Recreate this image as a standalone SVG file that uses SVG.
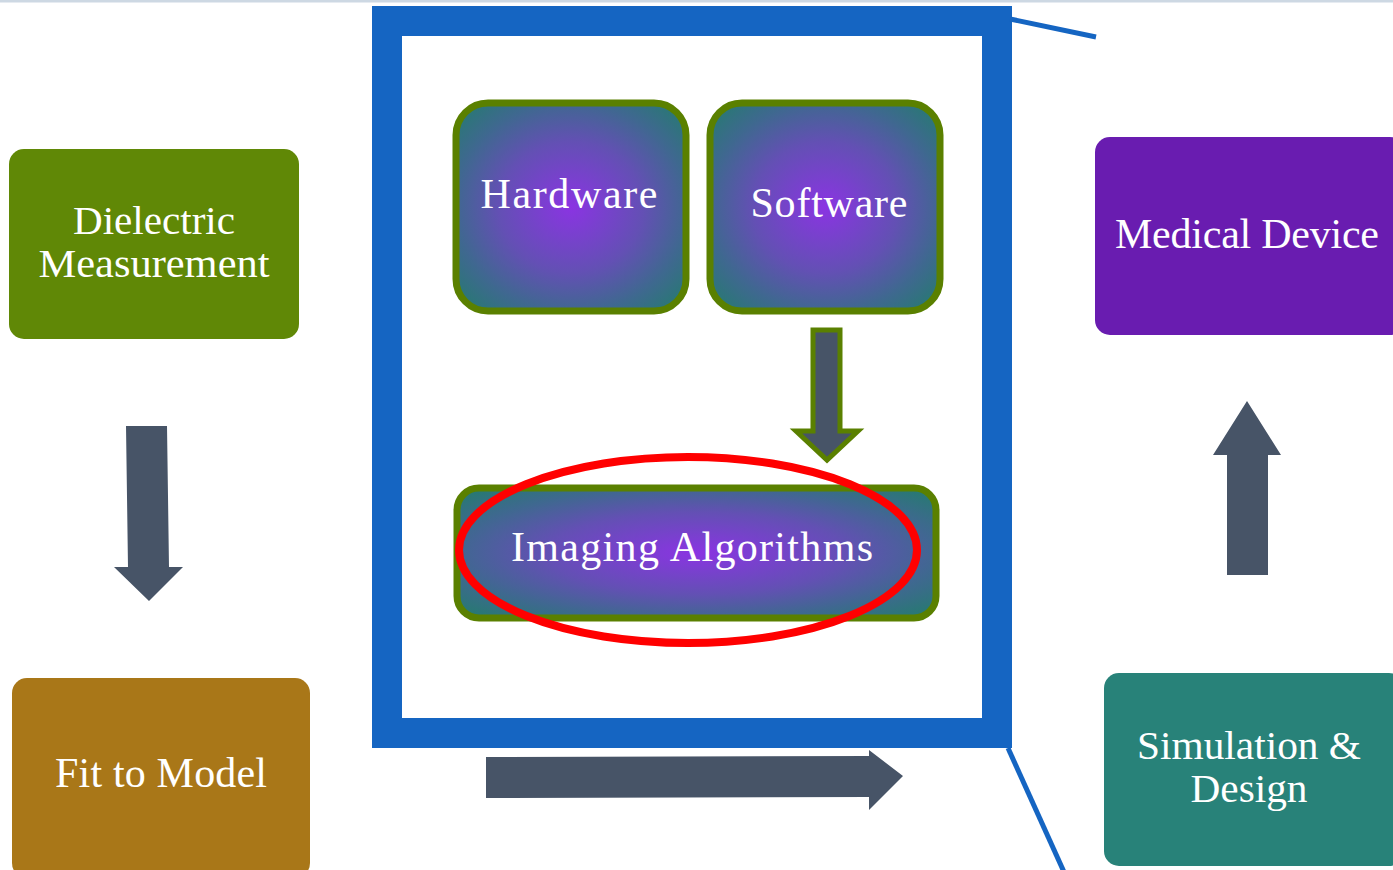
<svg xmlns="http://www.w3.org/2000/svg" width="1393" height="870" viewBox="0 0 1393 870">
  <defs>
    <radialGradient id="glow" cx="0.5" cy="0.5" r="0.7">
      <stop offset="0" stop-color="#8a34e2"/>
      <stop offset="0.45" stop-color="#6350b4"/>
      <stop offset="0.72" stop-color="#3f6890"/>
      <stop offset="1" stop-color="#227d6c"/>
    </radialGradient>
    <style>
      .lbl { font-family: "Liberation Serif", "DejaVu Serif", serif; font-size: 42px; fill: #ffffff; text-anchor: middle; }
      .two { font-size: 39px; }
      .inner { fill: url(#glow); stroke: #5a8000; stroke-width: 7; }
      .flow { fill: #475467; }
      .frame { fill: none; stroke: #1565c2; }
    </style>
  </defs>

  <rect x="0" y="0" width="1393" height="870" fill="#ffffff"/>
  <rect x="0" y="0" width="1393" height="2.5" fill="#cdd8e3"/>

  <!-- zoom frame and its callout lines -->
  <g id="frame">
    <rect class="frame" x="387" y="21" width="610" height="712" stroke-width="30"/>
    <line class="frame" x1="1010" y1="19" x2="1096" y2="37" stroke-width="5"/>
    <line class="frame" x1="1008" y1="748" x2="1064" y2="872" stroke-width="5"/>
  </g>

  <g id="dielectric">
    <rect x="9" y="149" width="290" height="190" rx="15" fill="#608806"/>
    <text class="lbl two" x="154" y="234" textLength="162" lengthAdjust="spacingAndGlyphs">Dielectric</text>
    <text class="lbl two" x="154" y="277" textLength="231" lengthAdjust="spacingAndGlyphs">Measurement</text>
  </g>

  <g id="fit-model">
    <rect x="12" y="678" width="298" height="200" rx="15" fill="#a97718"/>
    <text class="lbl" x="161" y="787" textLength="212">Fit to Model</text>
  </g>

  <g id="medical-device">
    <rect x="1095" y="137" width="310" height="198" rx="15" fill="#691cb0"/>
    <text class="lbl" x="1247" y="248" textLength="264">Medical Device</text>
  </g>

  <g id="simulation">
    <rect x="1104" y="673" width="300" height="193" rx="15" fill="#288279"/>
    <text class="lbl two" x="1249" y="759" textLength="224" lengthAdjust="spacingAndGlyphs">Simulation &amp;</text>
    <text class="lbl two" x="1249" y="802" textLength="117" lengthAdjust="spacingAndGlyphs">Design</text>
  </g>

  <g id="hardware">
    <rect class="inner" x="456" y="103" width="230" height="208" rx="32"/>
    <text class="lbl" x="569" y="208" textLength="177">Hardware</text>
  </g>

  <g id="software">
    <rect class="inner" x="710" y="103" width="230" height="208" rx="32"/>
    <text class="lbl" x="829" y="217" textLength="157">Software</text>
  </g>

  <g id="imaging">
    <rect class="inner" x="457" y="488" width="479" height="130" rx="22"/>
    <text class="lbl" x="692" y="561" textLength="362">Imaging Algorithms</text>
  </g>

  <g id="connectors">
    <!-- Dielectric Measurement to Fit to Model -->
    <polygon class="flow" points="126,426 167,426 169,567 183,567 149,601 114,567 128,567"/>
    <!-- Simulation & Design to Medical Device -->
    <polygon class="flow" points="1227,575 1268,575 1268,455 1281,455 1247,401 1213,455 1227,455"/>
    <!-- imaging chain to Simulation & Design -->
    <polygon class="flow" points="486,757 869,756 869,750 903,776 869,810 869,797 486,798"/>
    <!-- Software to Imaging Algorithms -->
    <polygon class="flow" points="813,330 840,330 840,431 858,431 827,460 796,431 813,431" stroke="#5a8000" stroke-width="5" stroke-linejoin="miter"/>
  </g>

  <!-- highlight around Imaging Algorithms -->
  <ellipse id="highlight" cx="688" cy="550" rx="229" ry="93" fill="none" stroke="#ff0000" stroke-width="8"/>
</svg>
